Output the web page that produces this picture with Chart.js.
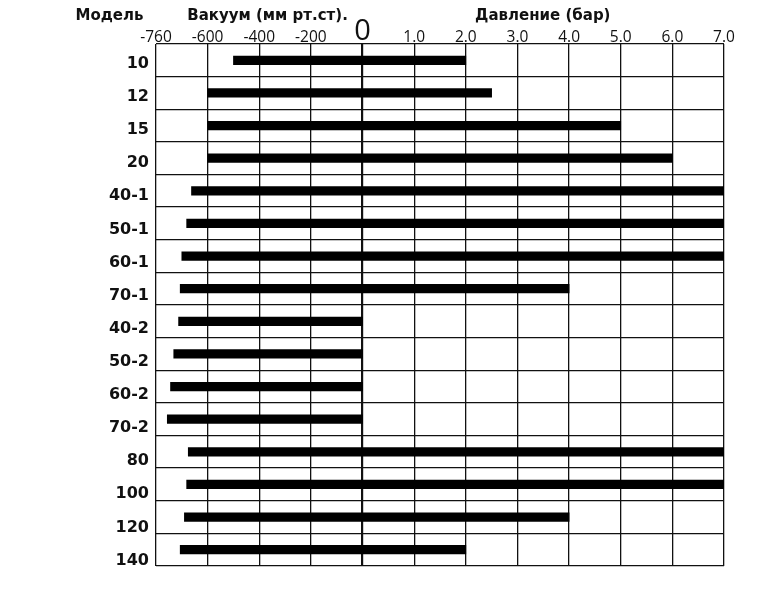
<!DOCTYPE html>
<html><head><meta charset="utf-8">
<script src="https://cdn.jsdelivr.net/npm/chart.js@4.4.0/dist/chart.umd.min.js"></script>
<style>html,body{margin:0;padding:0;background:#fff}#wrap{width:775px;height:592px;position:relative}</style>
</head><body><div id="wrap"><canvas id="c"></canvas></div>
<script>
const models = ['10','12','15','20','40-1','50-1','60-1','70-1','40-2','50-2','60-2','70-2','80','100','120','140'];
const vacuumStart = [-500,-600,-600,-600,-650,-665,-680,-685,-690,-705,-715,-725,-660,-665,-672,-685];
const pressureEnd = [2.0,2.5,5.0,6.0,7.0,7.0,7.0,4.0,0,0,0,0,7.0,7.0,4.0,2.0];
const vacuumTicks = ['-760','-600','-400','-200'];
const zeroTick = '0';
const pressureTicks = ['1.0','2.0','3.0','4.0','5.0','6.0','7.0'];
const axisLabels = [...vacuumTicks, zeroTick, ...pressureTicks];
const titleModel = 'Модель';
const titleVac = 'Вакуум (мм рт.ст).';
const titlePress = 'Давление (бар)';

function vacPos(v){ return v <= -600 ? (v + 760) / 160 : 1 + (v + 600) / 200; }
function presPos(p){ return 4 + p; }
const bars = models.map((m, i) => [vacPos(vacuumStart[i]), presPos(pressureEnd[i])]);

const titlePlugin = {
  id: 'titles',
  afterDraw(chart){
    const c = chart.ctx, x = chart.scales.x;
    c.save();
    c.font = 'bold 15px "DejaVu Sans"';
    c.fillStyle = '#111';
    c.textAlign = 'center';
    c.textBaseline = 'alphabetic';
    c.fillText(titleModel, chart.chartArea.left - 46.5, 19.5);
    c.fillText(titleVac, x.getPixelForValue(2.16), 19.5);
    c.fillText(titlePress, x.getPixelForValue(7.49), 19.5);
    c.restore();
  }
};

new Chart(document.getElementById('c'), {
  type: 'bar',
  data: {
    labels: models,
    datasets: [{
      data: bars,
      backgroundColor: '#000',
      borderWidth: 0,
      barThickness: 8.5,
      borderSkipped: false,
      xAxisID: 'x',
      yAxisID: 'y'
    }]
  },
  options: {
    indexAxis: 'y',
    responsive: true,
    maintainAspectRatio: false,
    animation: false,
    layout: { padding: { left: 56, right: 51, top: 14, bottom: 26 } },
    plugins: { legend: { display: false }, tooltip: { enabled: false } },
    scales: {
      x: {
        type: 'linear', position: 'top', min: 0, max: 11, offset: false,
        afterBuildTicks: s => { s.ticks = axisLabels.map((_, i) => ({ value: i })); },
        afterFit: s => { s.height = 30; s.paddingLeft = 0; s.paddingRight = 0; },
        grid: { color: '#111', lineWidth: c => (c.index === 4 ? 2.2 : 1.3), drawTicks: false, offset: false },
        border: { display: false },
        ticks: {
          padding: -1, color: '#111', maxRotation: 0, minRotation: 0, autoSkip: false,
          callback: (v, i) => axisLabels[i],
          font: c => (c.index === 4
            ? { family: '"Open Sans"', size: 29, lineHeight: 0.9 }
            : { family: '"Open Sans"', size: 15.5, lineHeight: 1.0 })
        }
      },
      y: {
        type: 'category', position: 'left', offset: true,
        grid: { offset: true, color: '#111', lineWidth: 1.3, drawTicks: false },
        border: { display: false },
        ticks: { display: false },
        afterFit: s => { s.width = 0; }
      },
      y2: {
        type: 'linear', position: 'left', reverse: true, min: -0.598, max: 15.167,
        offset: false, beginAtZero: false,
        afterBuildTicks: s => { s.ticks = models.map((_, i) => ({ value: i })); },
        afterFit: s => { s.width = 100; },
        grid: { display: false, drawTicks: false, offset: false },
        border: { display: false },
        ticks: {
          padding: 7, color: '#111', autoSkip: false,
          callback: v => models[v],
          font: { family: '"DejaVu Sans"', size: 16, weight: 'bold' }
        }
      }
    }
  },
  plugins: [titlePlugin]
});
</script>
</body></html>
